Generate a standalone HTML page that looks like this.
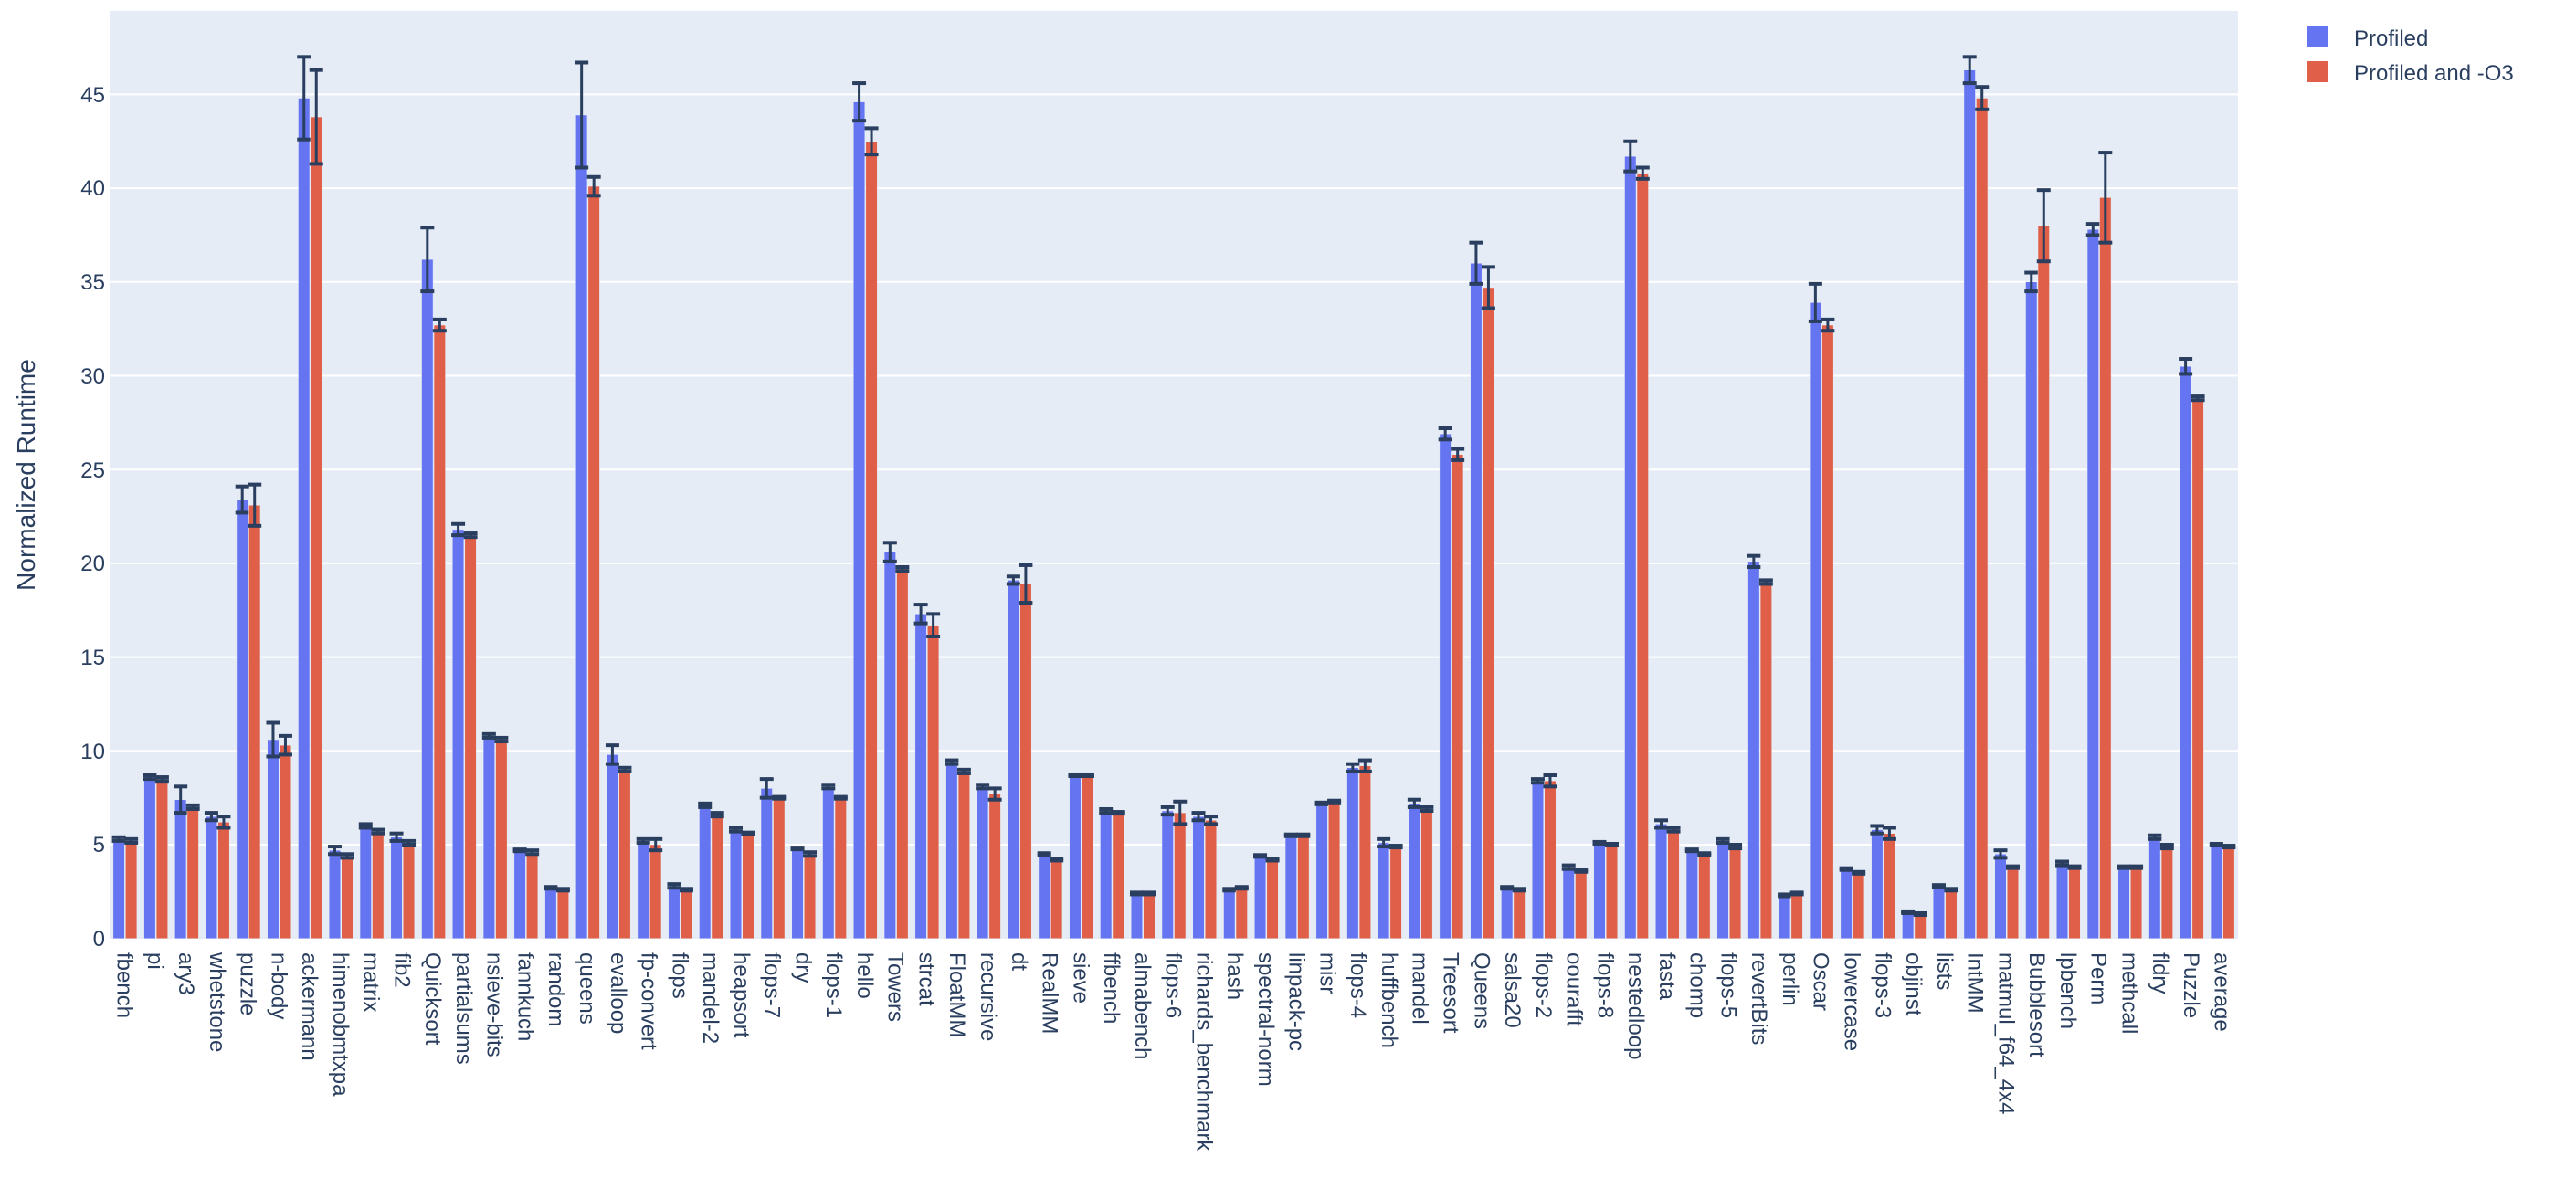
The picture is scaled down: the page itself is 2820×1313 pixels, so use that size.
<!DOCTYPE html>
<html><head><meta charset="utf-8"><style>
html,body{margin:0;padding:0;background:#fff;}
svg text{font-family:"Liberation Sans",sans-serif;fill:#2a3f5f;}
</style></head><body>
<svg id="s" width="2820" height="1308" xmlns="http://www.w3.org/2000/svg">
<rect x="120" y="12" width="2330" height="1016" fill="#e5ecf6"/>
<g id="grid"></g>
<g id="bars"></g>
<g font-size="24" text-anchor="end">
<text x="115" y="1036">0</text><text x="115" y="933">5</text><text x="115" y="831">10</text><text x="115" y="728">15</text><text x="115" y="625">20</text><text x="115" y="523">25</text><text x="115" y="420">30</text><text x="115" y="317">35</text><text x="115" y="214">40</text><text x="115" y="112">45</text>
</g>
<text transform="translate(38,520) rotate(-90)" text-anchor="middle" font-size="28">Normalized Runtime</text>
<rect x="2525" y="29" width="23" height="23" fill="#6574f1"/>
<rect x="2525" y="67" width="23" height="23" fill="#df5f48"/>
<text x="2577" y="50" font-size="24">Profiled</text>
<text x="2577" y="88" font-size="24">Profiled and -O3</text>
<g id="lab" font-size="24">
<text x="0" y="0">fbench</text><text>pi</text><text>ary3</text><text>whetstone</text><text>puzzle</text><text>n-body</text><text>ackermann</text><text>himenobmtxpa</text><text>matrix</text><text>fib2</text><text>Quicksort</text><text>partialsums</text><text>nsieve-bits</text><text>fannkuch</text><text>random</text><text>queens</text><text>evalloop</text><text>fp-convert</text><text>flops</text><text>mandel-2</text><text>heapsort</text><text>flops-7</text><text>dry</text><text>flops-1</text><text>hello</text><text>Towers</text><text>strcat</text><text>FloatMM</text><text>recursive</text><text>dt</text><text>RealMM</text><text>sieve</text><text>ffbench</text><text>almabench</text><text>flops-6</text><text>richards_benchmark</text><text>hash</text><text>spectral-norm</text><text>linpack-pc</text><text>misr</text><text>flops-4</text><text>huffbench</text><text>mandel</text><text>Treesort</text><text>Queens</text><text>salsa20</text><text>flops-2</text><text>oourafft</text><text>flops-8</text><text>nestedloop</text><text>fasta</text><text>chomp</text><text>flops-5</text><text>revertBits</text><text>perlin</text><text>Oscar</text><text>lowercase</text><text>flops-3</text><text>objinst</text><text>lists</text><text>IntMM</text><text>matmul_f64_4x4</text><text>Bubblesort</text><text>lpbench</text><text>Perm</text><text>methcall</text><text>fldry</text><text>Puzzle</text><text>average</text>
</g>
</svg>
<script>
var d=[[5.3,5.2,.1,.1],[8.6,8.5,.1,.1],[7.4,7.0,.7,.1],[6.5,6.2,.2,.3],[23.4,23.1,.7,1.1],[10.6,10.3,.9,.5],[44.8,43.8,2.2,2.5],[4.7,4.4,.2,.1],[6.0,5.7,.1,.1],[5.4,5.1,.2,.1],[36.2,32.7,1.7,.3],[21.8,21.5,.3,.1],[10.8,10.6,.1,.1],[4.7,4.6,.05,.1],[2.7,2.6,.05,.05],[43.9,40.1,2.8,.5],[9.8,9.0,.5,.1],[5.2,5.0,.1,.3],[2.8,2.6,.1,.05],[7.1,6.6,.1,.1],[5.8,5.6,.1,.05],[8.0,7.5,.5,.05],[4.8,4.5,.05,.1],[8.1,7.5,.1,.05],[44.6,42.5,1.0,.7],[20.6,19.7,.5,.1],[17.3,16.7,.5,.6],[9.4,8.9,.1,.1],[8.1,7.7,.1,.3],[19.1,18.9,.2,1.0],[4.5,4.2,.05,.05],[8.7,8.7,.05,.05],[6.8,6.7,.1,.05],[2.4,2.4,.05,.05],[6.8,6.7,.2,.6],[6.5,6.3,.2,.2],[2.6,2.7,.05,.05],[4.4,4.2,.05,.05],[5.5,5.5,.05,.05],[7.2,7.3,.05,.05],[9.1,9.2,.2,.3],[5.1,4.9,.2,.05],[7.2,6.9,.2,.1],[26.9,25.8,.3,.3],[36.0,34.7,1.1,1.1],[2.7,2.6,.05,.05],[8.4,8.4,.1,.3],[3.8,3.6,.1,.05],[5.1,5.0,.05,.05],[41.7,40.8,.8,.3],[6.1,5.8,.2,.1],[4.7,4.5,.05,.05],[5.2,4.9,.1,.1],[20.1,19.0,.3,.1],[2.3,2.4,.05,.05],[33.9,32.7,1.0,.3],[3.7,3.5,.05,.05],[5.8,5.6,.2,.3],[1.4,1.3,.05,.05],[2.8,2.6,.05,.05],[46.3,44.8,.7,.6],[4.5,3.8,.2,.05],[35.0,38.0,.5,1.9],[4.0,3.8,.1,.05],[37.8,39.5,.3,2.4],[3.8,3.8,.05,.05],[5.4,4.9,.1,.1],[30.5,28.8,.4,.1],[5.0,4.9,.05,.05]];
var NS="http://www.w3.org/2000/svg",Z=1027.7,K=20.54,W=2330/69;
function el(p,t,a){var e=document.createElementNS(NS,t);for(var k in a)e.setAttribute(k,a[k]);p.appendChild(e);return e;}
var g=document.getElementById('grid');
for(var v=5;v<=45;v+=5)el(g,'line',{x1:120,x2:2450,y1:Z-v*K,y2:Z-v*K,stroke:'#fff','stroke-width':2});
var b=document.getElementById('bars');
var bw=W*0.4;
d.forEach(function(r,i){var c=120+W*(i+0.5);
[[r[0],r[2],c-bw/2,'#6574f1'],[r[1],r[3],c+bw/2,'#df5f48']].forEach(function(q){
var y=Z-q[0]*K;el(b,'rect',{x:q[2]-bw/2+0.5,y:y,width:bw-1,height:q[0]*K,fill:q[3],stroke:'#e5ecf6','stroke-width':0.5});
var y1=Z-(q[0]+q[1])*K,y2=Z-(q[0]-q[1])*K;
el(b,'line',{x1:q[2],x2:q[2],y1:y1,y2:y2,stroke:'#2a3f5f','stroke-width':3});
el(b,'line',{x1:q[2]-7.5,x2:q[2]+7.5,y1:y1,y2:y1,stroke:'#2a3f5f','stroke-width':4});
el(b,'line',{x1:q[2]-7.5,x2:q[2]+7.5,y1:y2,y2:y2,stroke:'#2a3f5f','stroke-width':4});});});
var ts=document.getElementById('lab').getElementsByTagName('text');
for(var i=0;i<ts.length;i++){var c=120+W*(i+0.5);ts[i].setAttribute('x',0);ts[i].setAttribute('y',0);ts[i].setAttribute('dy','0.35em');ts[i].setAttribute('transform','translate('+c+',1043) rotate(90)');}
</script>
</body></html>
